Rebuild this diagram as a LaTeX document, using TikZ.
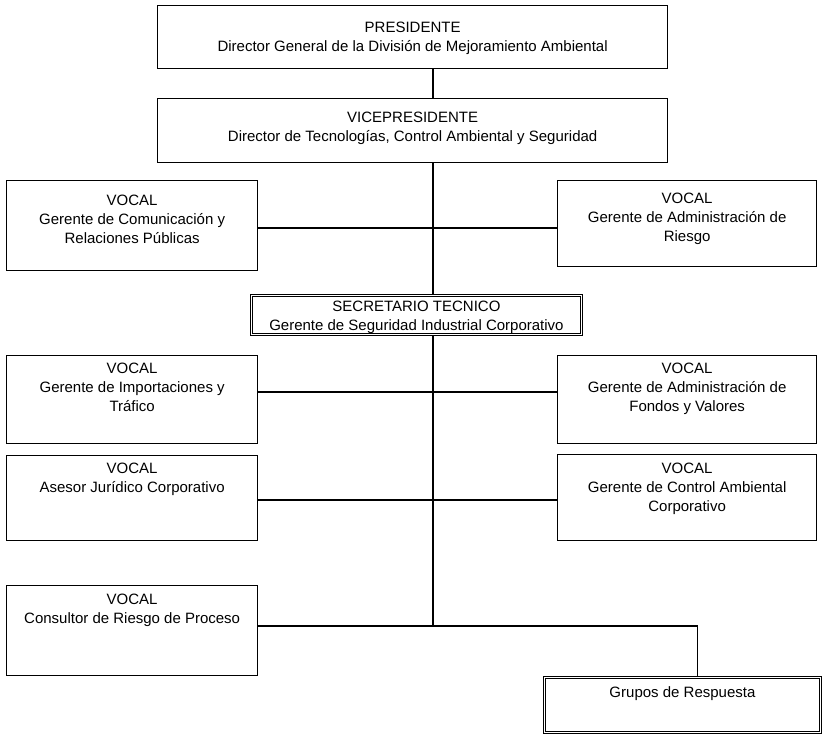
\documentclass[tikz,border=0pt]{standalone}
\usepackage{fontspec}
\setmainfont{Liberation Sans}
\newcommand{\bxt}[4]{\parbox[c][#2pt][t]{#1pt}{\centering\vspace*{#3pt}\rule{0pt}{10.8pt}#4\par}}
\begin{document}
\begin{tikzpicture}[x=1pt,y=-1pt,
  box/.style={draw, line width=1.3pt, inner sep=0pt, anchor=north west},
  dbox/.style={draw, line width=0.9pt, double, double distance=1.8pt, inner sep=0pt, anchor=north west},
  conn/.style={line width=1.3pt},
  every node/.style={font=\fontsize{15}{19}\selectfont}]
\useasboundingbox (0,0) rectangle (824,738);
\coordinate (tx) at (433,0);
\coordinate (r1) at (0,228);
\coordinate (r2) at (0,392);
\coordinate (r3) at (0,500);
% boxes
\node[box] (pres) at (157,5) {\bxt{510}{63}{16}{PRESIDENTE\\Director General de la División de Mejoramiento Ambiental}};
\node[box] (vice) at (157,98) {\bxt{510}{64}{13}{VICEPRESIDENTE\\Director de Tecnologías, Control Ambiental y Seguridad}};
\node[box] (v1l) at (6,180) {\bxt{251}{90}{14}{VOCAL\\Gerente de Comunicación y\\Relaciones Públicas}};
\node[box] (v1r) at (557,180) {\bxt{259}{86}{12}{VOCAL\\Gerente de Administración de\\Riesgo}};
\node[dbox] (sec) at (251,295) {\bxt{330}{39}{5}{SECRETARIO TECNICO\\Gerente de Seguridad Industrial Corporativo}};
\node[box] (v2l) at (6,355) {\bxt{251}{88}{7}{VOCAL\\Gerente de Importaciones y\\Tráfico}};
\node[box] (v2r) at (557,355) {\bxt{259}{88}{7}{VOCAL\\Gerente de Administración de\\Fondos y Valores}};
\node[box] (v3l) at (6,455) {\bxt{251}{85}{7}{VOCAL\\Asesor Jurídico Corporativo}};
\node[box] (v3r) at (557,454) {\bxt{259}{86}{8}{VOCAL\\Gerente de Control Ambiental\\Corporativo}};
\node[box] (v4l) at (6,585) {\bxt{251}{90}{8}{VOCAL\\Consultor de Riesgo de Proceso}};
\node[dbox] (grp) at (544,677) {\bxt{276}{55}{9}{Grupos de Respuesta}};
\coordinate (j) at (433,626);
% connectors
\draw[conn] (pres.south -| tx) -- (vice.north -| tx);
\draw[conn] (vice.south -| tx) -- (sec.north -| tx);
\draw[conn] (sec.south -| tx) -- (j);
\draw[conn] (v1l.east |- r1) -- (v1r.west |- r1);
\draw[conn] (v2l.east |- r2) -- (v2r.west |- r2);
\draw[conn] (v3l.east |- r3) -- (v3r.west |- r3);
\draw[conn] (v4l.east |- j) -- (j);
\draw[conn] (j) -| ([xshift=15pt]grp.north);
\end{tikzpicture}
\end{document}
